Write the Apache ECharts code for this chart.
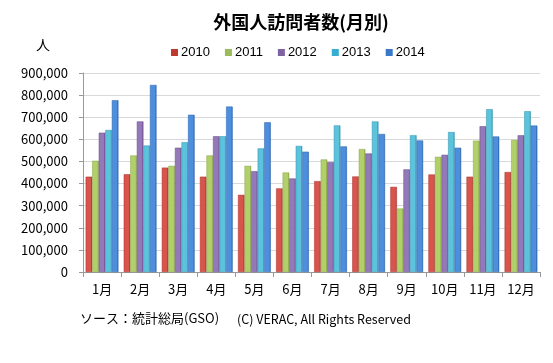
<!DOCTYPE html>
<html><head><meta charset="utf-8">
<script src="https://cdn.jsdelivr.net/npm/echarts@6/dist/echarts.min.js"></script>
<style>html,body{margin:0;padding:0;background:#fff}#c{width:553px;height:363px}</style>
</head><body><div id="c"></div>
<script>
const months = ['1月','2月','3月','4月','5月','6月','7月','8月','9月','10月','11月','12月'];
const years = ['2010','2011','2012','2013','2014'];
const v2010 = [431000,442000,472000,431000,349000,378000,411000,432000,385000,441000,431000,452000];
const v2011 = [503000,527000,480000,527000,480000,450000,509000,556000,287000,521000,594000,597000];
const v2012 = [630000,681000,562000,614000,456000,423000,497000,536000,464000,530000,659000,618000];
const v2013 = [642000,572000,587000,614000,559000,570000,663000,681000,619000,633000,736000,727000];
const v2014 = [777000,846000,711000,748000,677000,544000,568000,624000,595000,562000,613000,662000];
const yTicks = [0,100000,200000,300000,400000,500000,600000,700000,800000,900000];

const values = [v2010,v2011,v2012,v2013,v2014];
const colors = [['#d9544c','#a8302a'],['#b2d06a','#86a343'],['#9479b8','#65498a'],['#5cc3dc','#2f93ad'],['#4d8fdc','#2a62ae']];
const legendColors = ['#c0392f','#9bbb59','#7f62a1','#35aed0','#3a78c9'];
const font = '"Noto Sans CJK JP", "Noto Sans", sans-serif';

const chart = echarts.init(document.getElementById('c'), null, {renderer:'canvas'});
chart.setOption({
  backgroundColor:'#fff',
  animation:false,
  color:legendColors,
  title:{text:'外国人訪問者数(月別)', left:296, top:8, textAlign:'center',
    textStyle:{fontSize:18, fontWeight:'bold', color:'#000', fontFamily:font}},
  graphic:[
    {type:'text', left:36, top:38, style:{text:'人', fill:'#000', font:'14px '+font}},
    {type:'text', left:80, top:312, style:{text:'ソース：統計総局(GSO)', fill:'#000', font:'13px '+font}},
    {type:'text', left:237, top:313, style:{text:'(C) VERAC, All Rights Reserved', fill:'#000', font:'12.5px '+font}}
  ],
  legend:{data:years.map((y,i)=>({name:y, itemStyle:{color:legendColors[i], borderWidth:0}})),
    left:166, top:41, itemWidth:7, itemHeight:7, itemGap:15, icon:'rect',
    textStyle:{fontSize:13, color:'#000', fontFamily:'Arial, "Liberation Sans", sans-serif', padding:[0,0,0,-2]}},
  grid:{left:83, right:13, top:73, bottom:91},
  xAxis:{type:'category', data:months, boundaryGap:true,
    axisLine:{lineStyle:{color:'#999'}},
    axisTick:{show:true, length:5, alignWithLabel:false, lineStyle:{color:'#999'}},
    axisLabel:{fontSize:13, color:'#000', margin:11, fontFamily:font, interval:0}},
  yAxis:{type:'value', min:0, max:900000, interval:100000,
    axisLine:{show:true, lineStyle:{color:'#999'}},
    axisTick:{show:true, length:4, lineStyle:{color:'#999'}},
    splitLine:{lineStyle:{color:'#d9d9d9'}},
    axisLabel:{fontSize:13, color:'#000', margin:15, fontFamily:font,
      formatter:v=>yTicks.indexOf(v)>=0 ? v.toLocaleString('en-US') : ''}},
  series: years.map((y,i)=>({
    name:y, type:'bar', data:values[i], barGap:'0%', barCategoryGap:'14%',
    itemStyle:{color:new echarts.graphic.LinearGradient(0,0,1,0,[
      {offset:0,color:colors[i][0]},{offset:0.75,color:colors[i][0]},{offset:1,color:colors[i][1]}]),
      borderColor:colors[i][1], borderWidth:0.5}
  }))
});
</script></body></html>
